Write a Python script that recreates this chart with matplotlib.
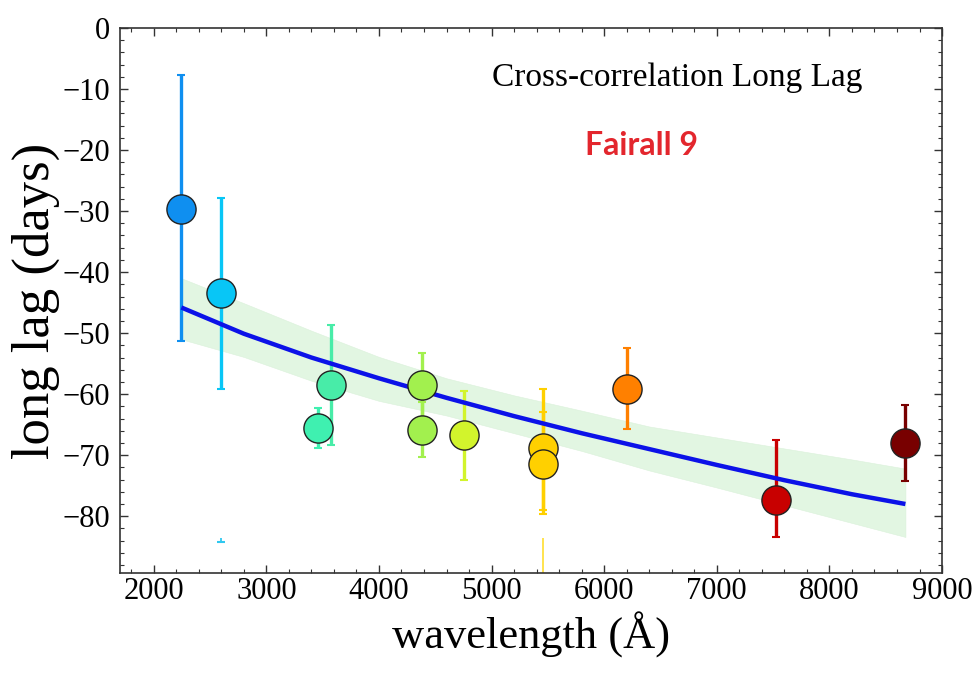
import numpy as np
import matplotlib
matplotlib.use("Agg")
import matplotlib.pyplot as plt
from matplotlib.ticker import MultipleLocator

# measured long lags per band
wavelength = [2245, 2599, 3460, 3572, 4383, 4383, 4758, 5454, 5454, 6204, 7528, 8675]
lag = [-29.6, -43.5, -65.5, -58.5, -58.5, -65.8, -66.7, -68.9, -71.4, -59.2, -77.3, -68.0]
err_up = [21.9, 15.7, 3.3, 9.8, 5.3, 4.5, 7.2, 9.7, 8.5, 6.7, 9.8, 6.2]
err_down = [21.7, 15.7, 3.3, 9.9, 5.3, 4.5, 7.4, 10.1, 8.3, 6.5, 6.1, 6.2]
colors = ["#0f8ff0", "#08c6f6", "#3ff0b0", "#48eca8", "#a2f04e", "#a2f04e",
          "#d2f42c", "#ffd000", "#ffd000", "#ff8000", "#c80000", "#780000"]

# stray lower limits
stray_wl = [2599, 5454]
stray_top = [-83.6, -83.6]
stray_bot = [-84.2, -95.0]
stray_colors = ["#30c8f0", "#ffe040"]

# fitted relation and its confidence band
fit_wl = [2245, 2800, 3400, 4000, 4600, 5200, 5800, 6400, 7000, 7600, 8200, 8675]
fit_lag = [-45.8, -50.1, -54.0, -57.4, -60.6, -63.6, -66.4, -69.0, -71.6, -74.1, -76.4, -78.0]
band_hi = [-41.0, -45.1, -49.6, -53.9, -57.4, -60.2, -62.7, -65.3, -67.1, -68.9, -70.7, -72.2]
band_lo = [-51.0, -53.9, -57.8, -61.1, -63.5, -66.4, -69.3, -72.5, -75.3, -78.2, -81.1, -83.4]

plt.rcParams["font.family"] = ["Liberation Serif", "DejaVu Serif"]

fig = plt.figure(figsize=(9.77, 6.74), dpi=100)
ax = fig.add_axes([0.1228, 0.1499, 0.8414, 0.8086])

ax.fill_between(fit_wl, band_lo, band_hi, facecolor="#e2f6e2", edgecolor="#dbf2db",
                linewidth=0.4, zorder=1)

for x, y, lo, hi, c in zip(wavelength, lag, err_down, err_up, colors):
    ax.errorbar([x], [y], yerr=[[lo], [hi]], fmt="none", ecolor=c, elinewidth=2.4,
                capsize=3, capthick=1.5, zorder=2)

for x, t, b, c in zip(stray_wl, stray_top, stray_bot, stray_colors):
    ax.vlines(x, b, t, color=c, linewidth=1.3, zorder=2)
ax.plot([stray_wl[0]], [stray_bot[0]], marker="_", ms=6, mew=1.5, color=stray_colors[0], zorder=2)

ax.plot(fit_wl, fit_lag, color="#0c12e8", linewidth=3.2, solid_capstyle="butt", zorder=3)

for x, y, c in zip(wavelength, lag, colors):
    ax.plot([x], [y], "o", ms=21, mfc=c, mec="#222222", mew=1.0, zorder=4)

ax.set_xlim(1700, 9000)
ax.set_ylim(-89.3, 0)
ax.xaxis.set_major_locator(MultipleLocator(1000))
ax.xaxis.set_minor_locator(MultipleLocator(200))
ax.yaxis.set_major_locator(MultipleLocator(10))
ax.yaxis.set_minor_locator(MultipleLocator(2))
ax.tick_params(which="both", direction="in", top=True, right=True, color="#333333")
ax.tick_params(which="major", length=6, width=1)
ax.tick_params(which="minor", length=3, width=0.8)
ax.tick_params(axis="x", labelsize=22, pad=3)
ax.tick_params(axis="y", labelsize=22, pad=7)
for s in ax.spines.values():
    s.set_color("#333333")
    s.set_linewidth(1.2)

ax.set_xlabel("wavelength (Å)", fontsize=32, labelpad=4)
ax.set_ylabel("long lag (days)", fontsize=38, labelpad=2)

ax.text(0.678, 0.908, "Cross-correlation Long Lag", transform=ax.transAxes,
        ha="center", va="center", fontsize=24, color="black")
ax.text(0.634, 0.7835, "Fairall 9", transform=ax.transAxes, ha="center", va="center",
        fontsize=23, fontweight="bold", family=["Lato", "DejaVu Sans"], color="#e3262d")

fig.savefig("out.png", dpi=100)
